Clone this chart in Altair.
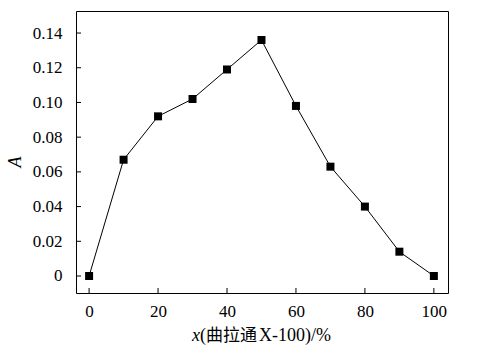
import altair as alt
import pandas as pd

x_vals = [0, 10, 20, 30, 40, 50, 60, 70, 80, 90, 100]
a_vals = [0.0, 0.067, 0.092, 0.102, 0.119, 0.136, 0.098, 0.063, 0.040, 0.014, 0.0]
x_ticks = [0, 20, 40, 60, 80, 100]
y_ticks = [0, 0.02, 0.04, 0.06, 0.08, 0.10, 0.12, 0.14]

df = pd.DataFrame({"x": x_vals, "A": a_vals})
W, H = 372, 282
xs = alt.Scale(domain=[-3.8, 104.1], nice=False, zero=False)
ys = alt.Scale(domain=[-0.0098, 0.1527], nice=False, zero=False)
FONT = "Liberation Serif"

xaxis = alt.Axis(values=x_ticks, labelPadding=10, labelFont=FONT)
yaxis = alt.Axis(values=y_ticks, labelPadding=14, labelFont=FONT,
                 labelExpr="datum.value == 0 ? '0' : format(datum.value, '.2f')")

base = alt.Chart(df)
line = base.mark_line(color="black", strokeWidth=1).encode(
    x=alt.X("x:Q", scale=xs, axis=xaxis), y=alt.Y("A:Q", scale=ys, axis=yaxis))
pts = base.mark_square(color="black", size=64, opacity=1).encode(
    x=alt.X("x:Q", scale=xs, axis=xaxis), y=alt.Y("A:Q", scale=ys, axis=yaxis))

xt = alt.Chart(pd.DataFrame({"v": x_ticks})).mark_rule(color="black", strokeWidth=1).encode(
    x=alt.X("v:Q", scale=xs, axis=xaxis), y=alt.value(H), y2=alt.value(H - 5))
yt = alt.Chart(pd.DataFrame({"v": y_ticks})).mark_rule(color="black", strokeWidth=1).encode(
    y=alt.Y("v:Q", scale=ys, axis=yaxis), x=alt.value(0), x2=alt.value(5))

TY = 325
tx1 = alt.Chart(pd.DataFrame({"t": ["x"]})).mark_text(
    font=FONT, fontSize=18, fontStyle="italic", align="right", baseline="middle", color="black"
).encode(text="t:N", x=alt.value(124), y=alt.value(TY))
tx2 = alt.Chart(pd.DataFrame({"t": ["("]})).mark_text(
    font=FONT, fontSize=18, align="left", baseline="middle", color="black"
).encode(text="t:N", x=alt.value(124), y=alt.value(TY))
tx3 = alt.Chart(pd.DataFrame({"t": ["曲拉通"]})).mark_text(
    font="Noto Sans CJK SC", fontSize=17, align="left", baseline="middle", color="black"
).encode(text="t:N", x=alt.value(130), y=alt.value(TY))
tx4 = alt.Chart(pd.DataFrame({"t": ["X-100)/%"]})).mark_text(
    font=FONT, fontSize=18, align="left", baseline="middle", color="black"
).encode(text="t:N", x=alt.value(183), y=alt.value(TY))
ty = alt.Chart(pd.DataFrame({"t": ["A"]})).mark_text(
    font=FONT, fontSize=18, fontStyle="italic", align="center", baseline="middle", color="black", angle=270
).encode(text="t:N", x=alt.value(-60), y=alt.value(151))

chart = alt.layer(line, pts, xt, yt, tx1, tx2, tx3, tx4, ty).properties(
    width=W, height=H,
    autosize=alt.AutoSizeParams(type="none"),
    padding={"left": 76, "top": 11, "right": 29, "bottom": 62},
).configure(background="white").configure_view(
    stroke="black", strokeWidth=1
).configure_axis(
    ticks=False, domain=False, grid=False, title=None,
    labelFont=FONT, labelFontSize=17, labelColor="black"
).configure_axisY(labelFont=FONT).configure_axisX(labelFont=FONT)

chart.save("out.html", embed_options={"renderer": "svg", "actions": False})
